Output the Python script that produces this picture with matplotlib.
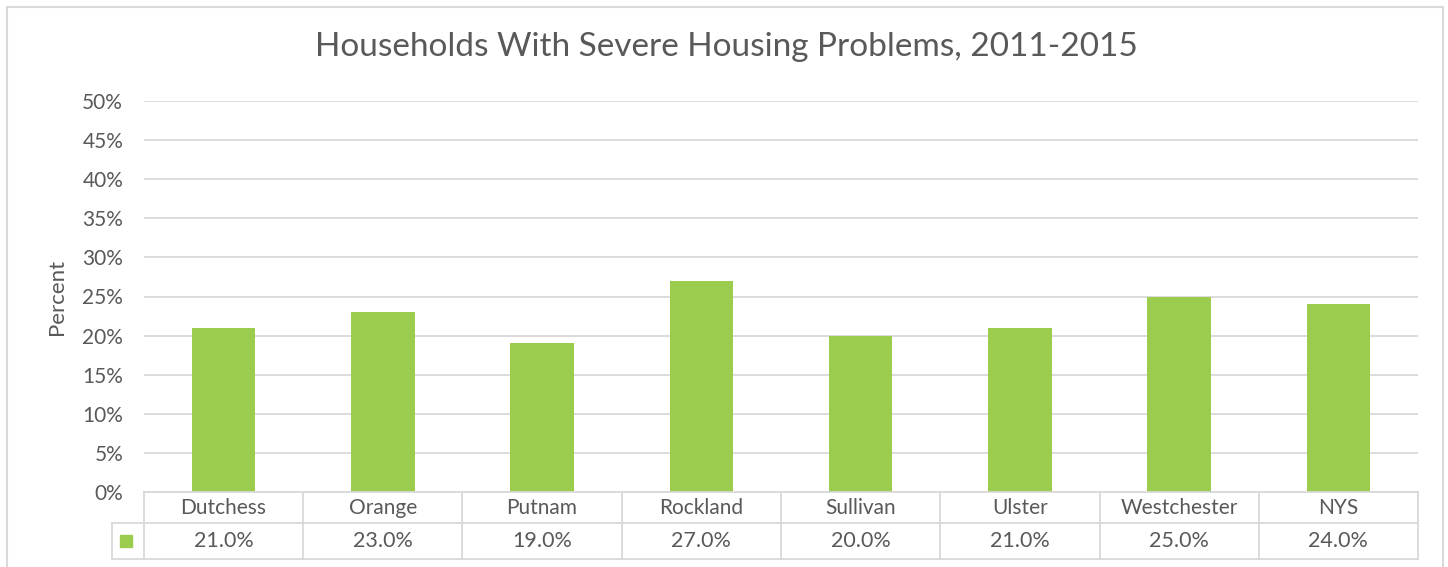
import matplotlib.pyplot as plt
from matplotlib.patches import Rectangle

# dados
regioes = ["Dutchess", "Orange", "Putnam", "Rockland", "Sullivan", "Ulster", "Westchester", "NYS"]
valores = [0.21, 0.23, 0.19, 0.27, 0.20, 0.21, 0.25, 0.24]
yticks = [0.0, 0.05, 0.10, 0.15, 0.20, 0.25, 0.30, 0.35, 0.40, 0.45, 0.50]

verde = "#9BCC4E"
cinza = "#D9D9D9"
texto = "#595959"

plt.rcParams["font.family"] = ["Lato", "DejaVu Sans"]

fig = plt.figure(figsize=(14.48, 5.67), dpi=100)
ax = fig.add_axes([144 / 1448, 75 / 567, 1274 / 1448, 391 / 567])

x = range(len(regioes))
ax.bar(x, valores, width=0.4, color=verde, zorder=3)

ax.set_xlim(-0.5, len(regioes) - 0.5)
ax.set_ylim(0, 0.5)
ax.set_yticks(yticks)
ax.set_yticklabels([f"{v * 100:.0f}%" for v in yticks])
ax.tick_params(axis="y", length=0, pad=15, labelsize=15, labelcolor=texto)
ax.set_xticks([])
ax.grid(axis="y", color=cinza, linewidth=1.3, zorder=0)
for s in ax.spines.values():
    s.set_visible(False)

ax.set_ylabel("Percent", fontsize=16, color=texto, labelpad=11)

# tabela de dados abaixo do gráfico
tr = ax.get_xaxis_transform()
h1 = -31 / 391
h2 = -67 / 391
xl = -0.5
xr = len(regioes) - 0.5
xk = -0.5 - 32 / 159.25
kw = dict(transform=tr, color=cinza, linewidth=1.3, clip_on=False, zorder=4)
ax.plot([xl, xr], [0, 0], **kw)
ax.plot([xk, xr], [h1, h1], **kw)
ax.plot([xk, xr], [h2, h2], **kw)
ax.plot([xk, xk], [h1, h2], **kw)
for i in range(len(regioes) + 1):
    ax.plot([i - 0.5, i - 0.5], [0, h2], **kw)

for i, (r, v) in enumerate(zip(regioes, valores)):
    ax.text(i, h1 / 2, r, transform=tr, ha="center", va="center", fontsize=15, color=texto)
    ax.text(i, (h1 + h2) / 2, f"{v * 100:.1f}%", transform=tr, ha="center", va="center",
            fontsize=15.5, color=texto)

ax.add_patch(Rectangle((xk + 0.05, (h1 + h2) / 2 - 0.016), 0.075, 0.032, transform=tr,
                       color=verde, clip_on=False))

# borda do gráfico
fig.patches.append(Rectangle((7 / 1448, -0.05), 1436 / 1448, 1.05 - 7 / 567,
                             transform=fig.transFigure, fill=False, edgecolor=cinza,
                             linewidth=1.5))

fig.text(0.5015, 1 - 47 / 567, "Households With Severe Housing Problems, 2011-2015",
         ha="center", va="center", fontsize=24, color=texto)

fig.savefig("out.png", dpi=100)
